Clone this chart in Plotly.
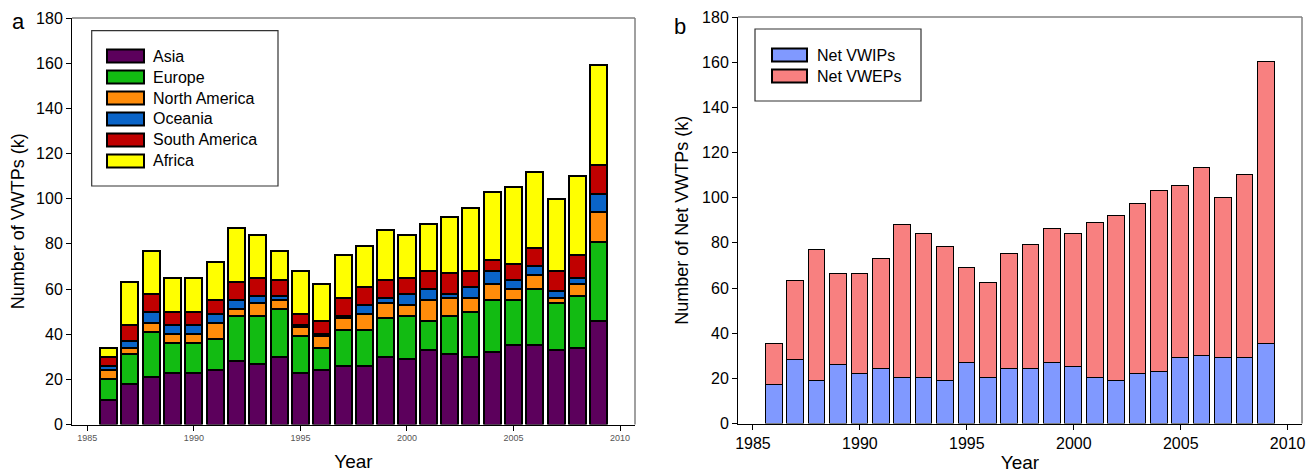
import plotly.graph_objects as go

years = list(range(1986, 2010))
asia = [11, 18, 21, 23, 23, 24, 28, 27, 30, 23, 24, 26, 26, 30, 29, 33, 31, 30, 32, 35, 35, 33, 34, 46]
europe = [9, 13, 20, 13, 13, 14, 20, 21, 21, 16, 10, 16, 16, 17, 19, 13, 17, 20, 23, 20, 25, 21, 23, 35]
north_america = [4, 3, 4, 4, 4, 7, 3, 6, 4, 4, 5, 5, 7, 7, 5, 9, 8, 6, 7, 5, 6, 2, 5, 13]
oceania = [2, 3, 5, 4, 4, 4, 4, 3, 2, 1, 1, 1, 4, 2, 5, 5, 2, 5, 6, 4, 4, 3, 3, 8]
south_america = [4, 7, 8, 6, 6, 6, 8, 8, 7, 5, 6, 8, 8, 8, 7, 8, 9, 7, 5, 7, 8, 9, 10, 13]
africa = [4, 19, 19, 15, 15, 17, 24, 19, 13, 19, 16, 19, 18, 22, 19, 21, 25, 28, 30, 34, 34, 32, 35, 44]

net_vwips = [17, 28, 19, 26, 22, 24, 20, 20, 19, 27, 20, 24, 24, 27, 25, 20, 19, 22, 23, 29, 30, 29, 29, 35]
net_vweps = [18, 35, 58, 40, 44, 49, 68, 64, 59, 42, 42, 51, 55, 59, 59, 69, 73, 75, 80, 76, 83, 71, 81, 125]

x_ticks = [1985, 1990, 1995, 2000, 2005, 2010]
y_ticks = [0, 20, 40, 60, 80, 100, 120, 140, 160, 180]

region_series = [
    ("Asia", asia, "#5C005C"),
    ("Europe", europe, "#12BB12"),
    ("North America", north_america, "#FF8C0A"),
    ("Oceania", oceania, "#0A64C8"),
    ("South America", south_america, "#C00000"),
    ("Africa", africa, "#FFFF00"),
]
net_series = [
    ("Net VWIPs", net_vwips, "#8099FF"),
    ("Net VWEPs", net_vweps, "#F88080"),
]

W, H = 1306, 474
FONT = "Liberation Sans, Arial, sans-serif"

fig = go.Figure()
for name, vals, col in region_series:
    fig.add_trace(go.Bar(x=years, y=vals, name=name, marker=dict(color=col, line=dict(color="black", width=2)),
                         width=0.8, xaxis="x", yaxis="y", showlegend=False))
for name, vals, col in net_series:
    fig.add_trace(go.Bar(x=years, y=vals, name=name, marker=dict(color=col, line=dict(color="black", width=1.5)),
                         width=0.78, xaxis="x2", yaxis="y2", showlegend=False))

def px(x):
    return x / W

def py(y):
    return 1 - y / H

axis_common = dict(showline=True, linecolor="black", linewidth=1, ticks="outside", ticklen=5,
                   tickcolor="black", showgrid=False, zeroline=False, automargin=False)

fig.update_layout(
    width=W, height=H, barmode="stack", bargap=0,
    margin=dict(l=0, r=0, t=0, b=0),
    paper_bgcolor="white", plot_bgcolor="white",
    font=dict(family=FONT, color="black"),
    xaxis=dict(domain=[px(72), px(635)], range=[1984.28, 2010.7], tickvals=x_ticks,
               tickfont=dict(size=9, color="#555555"), anchor="y",
               title=dict(text="Year", font=dict(size=19), standoff=12), **axis_common),
    yaxis=dict(domain=[py(424.5), py(18)], range=[0, 180], tickvals=y_ticks,
               tickfont=dict(size=16), anchor="x",
               title=dict(text="Number of VWTPs (k)", font=dict(size=18), standoff=6), **axis_common),
    xaxis2=dict(domain=[px(738), px(1302)], range=[1984.3, 2010.67], tickvals=x_ticks,
                tickfont=dict(size=16), anchor="y2",
                title=dict(text="Year", font=dict(size=19), standoff=4), **axis_common),
    yaxis2=dict(domain=[py(423.5), py(17)], range=[0, 180], tickvals=y_ticks,
                tickfont=dict(size=16), anchor="x2",
                title=dict(text="Number of Net VWTPs (k)", font=dict(size=18), standoff=8), **axis_common),
)

shapes = []
# grey frame (top and right) for each panel
for xr, yr in [("x domain", "y domain"), ("x2 domain", "y2 domain")]:
    shapes.append(dict(type="line", xref=xr, yref=yr, x0=0, x1=1, y0=1, y1=1, line=dict(color="#808080", width=1.5)))
    shapes.append(dict(type="line", xref=xr, yref=yr, x0=1, x1=1, y0=0, y1=1, line=dict(color="#808080", width=1.5)))

annotations = []
# legend boxes (manual, to match large swatches)
def add_legend(box, rows, sw_x0, sw_x1, text_x, items):
    shapes.append(dict(type="rect", xref="paper", yref="paper", x0=px(box[0]), x1=px(box[1]),
                       y0=py(box[3]), y1=py(box[2]), line=dict(color="#333333", width=1.2), fillcolor="white",
                       layer="above"))
    for (name, _, col), ry in zip(items, rows):
        shapes.append(dict(type="rect", xref="paper", yref="paper", x0=px(sw_x0), x1=px(sw_x1),
                           y0=py(ry + 6.5), y1=py(ry - 6.5), line=dict(color="black", width=2),
                           fillcolor=col, layer="above"))
        annotations.append(dict(xref="paper", yref="paper", x=px(text_x), y=py(ry), text=name,
                                showarrow=False, xanchor="left", yanchor="middle",
                                font=dict(size=16, color="black", family=FONT)))

add_legend((91.7, 278, 30.7, 186), [56, 77, 98, 119, 140, 161], 107, 144, 151, region_series)
add_legend((755, 921, 29, 101), [55, 76], 772, 807, 815, net_series)

annotations.append(dict(xref="paper", yref="paper", x=px(18), y=py(22), text="a", showarrow=False,
                        xanchor="center", yanchor="middle", font=dict(size=22, color="black", family=FONT)))
annotations.append(dict(xref="paper", yref="paper", x=px(680), y=py(27), text="b", showarrow=False,
                        xanchor="center", yanchor="middle", font=dict(size=22, color="black", family=FONT)))

fig.update_layout(shapes=shapes, annotations=annotations)
fig.write_html("out.html", config={"displayModeBar": False},
               post_script="document.body.style.margin='0';document.body.style.padding='0';"
                           "document.body.style.overflow='hidden';")
